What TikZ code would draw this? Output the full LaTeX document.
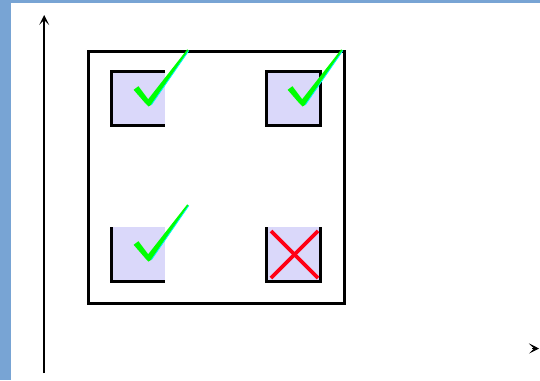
\documentclass[tikz,border=0pt]{standalone}
\usetikzlibrary{arrows.meta}
\definecolor{frameblue}{RGB}{120,164,212}
\definecolor{boxfill}{RGB}{218,216,250}
\definecolor{checkgreen}{RGB}{0,255,0}
\definecolor{checkcyan}{RGB}{0,240,255}
\definecolor{xred}{RGB}{255,0,20}
\tikzset{
  px/.style={x=1pt,y=-1pt},
  border/.style={line width=3pt,line cap=rect},
  axisline/.style={line width=2.4pt},
  axistip/.style={-{Stealth[length=10pt,width=10pt,inset=5pt]}},
  checkmark/.pic={
    \fill[checkgreen] (-14.4,-14.2) -- (-9.6,-17.8) -- (0.2,-4.8) -- (39.2,-54.6) -- (40.8,-53.4) -- (3.4,0.8) -- (0.5,2.5) -- (-2.5,-0.5) -- cycle;
    \draw[checkcyan,line width=0.8pt] (3.4,0.8) -- (40.8,-53.4);
  },
  crossmark/.style={xred,line width=3.6pt}
}
\begin{document}
\begin{tikzpicture}[px]
\useasboundingbox (0,0) rectangle (540,380);
\fill[white] (0,0) rectangle (540,380);
% blue frame
\fill[frameblue] (0,0) rectangle (540,3);
\fill[frameblue] (0,0) rectangle (11,380);
% axes
\coordinate (ybot) at (44.2,373);
\coordinate (ytop) at (44.2,15);
\draw[axisline,axistip] (ybot) -- (ytop);
\coordinate (xa) at (532,348.5);
\coordinate (xb) at (539,348.5);
\draw[line width=0.6pt,axistip] (xa) -- (xb);
% outer frame
\draw[border] (88.5,51.5) rectangle (344.5,303.5);
% top-left box
\fill[boxfill] (110,70) rectangle (165,127);
\draw[border,line cap=butt] (165,71.5) -- (111.5,71.5) -- (111.5,125.5) -- (165,125.5);
% top-right box
\fill[boxfill] (265,70) rectangle (322,127);
\draw[border] (266.5,71.5) rectangle (320.5,125.5);
% bottom-left box
\fill[boxfill] (110,227) rectangle (165,283);
\draw[border,line cap=butt] (111.5,227) -- (111.5,281.5) -- (165,281.5);
% bottom-right box
\fill[boxfill] (265,227) rectangle (322,283);
\draw[border,line cap=butt] (266.5,227) -- (266.5,281.5) -- (320.5,281.5) -- (320.5,227);
% checks
\pic at (148,104) {checkmark};
\pic at (302,104) {checkmark};
\pic at (148,259) {checkmark};
% cross
\coordinate (c1) at (271,231);
\coordinate (c2) at (318,278);
\coordinate (c3) at (318,231);
\coordinate (c4) at (271,278);
\draw[crossmark] (c1) -- (c2);
\draw[crossmark] (c3) -- (c4);
\end{tikzpicture}
\end{document}
